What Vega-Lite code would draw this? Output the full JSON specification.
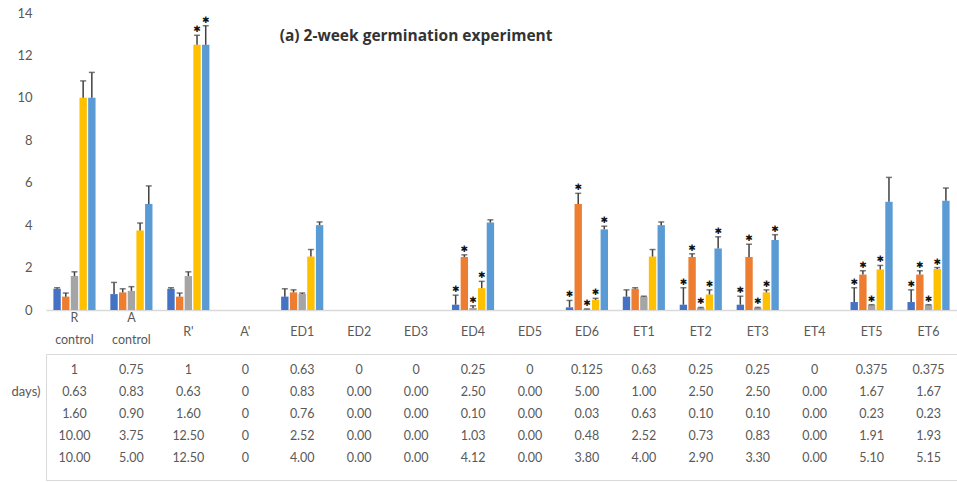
{
  "$schema": "https://vega.github.io/schema/vega-lite/v6.json",
  "padding": {"left": 10, "top": 7, "right": 0, "bottom": 0},
  "background": "white",
  "config": {"font": "Lato", "view": {"stroke": null}},
  "spacing": 6,
  "datasets": {
    "d": [
      {"cat": "R control", "s": "s1", "v": 1, "hi": 1.05, "star": false, "t": "1"},
      {"cat": "R control", "s": "s2", "v": 0.63, "hi": 0.8, "star": false, "t": "0.63"},
      {"cat": "R control", "s": "s3", "v": 1.6, "hi": 1.8, "star": false, "t": "1.60"},
      {"cat": "R control", "s": "s4", "v": 10, "hi": 10.8, "star": false, "t": "10.00"},
      {"cat": "R control", "s": "s5", "v": 10, "hi": 11.2, "star": false, "t": "10.00"},
      {"cat": "A control", "s": "s1", "v": 0.75, "hi": 1.3, "star": false, "t": "0.75"},
      {"cat": "A control", "s": "s2", "v": 0.83, "hi": 1.0, "star": false, "t": "0.83"},
      {"cat": "A control", "s": "s3", "v": 0.9, "hi": 1.1, "star": false, "t": "0.90"},
      {"cat": "A control", "s": "s4", "v": 3.75, "hi": 4.1, "star": false, "t": "3.75"},
      {"cat": "A control", "s": "s5", "v": 5, "hi": 5.85, "star": false, "t": "5.00"},
      {"cat": "R'", "s": "s1", "v": 1, "hi": 1.05, "star": false, "t": "1"},
      {"cat": "R'", "s": "s2", "v": 0.63, "hi": 0.8, "star": false, "t": "0.63"},
      {"cat": "R'", "s": "s3", "v": 1.6, "hi": 1.8, "star": false, "t": "1.60"},
      {"cat": "R'", "s": "s4", "v": 12.5, "hi": 12.95, "star": true, "t": "12.50"},
      {"cat": "R'", "s": "s5", "v": 12.5, "hi": 13.4, "star": true, "t": "12.50"},
      {"cat": "A'", "s": "s1", "v": 0, "hi": 0, "star": false, "t": "0"},
      {"cat": "A'", "s": "s2", "v": 0, "hi": 0, "star": false, "t": "0"},
      {"cat": "A'", "s": "s3", "v": 0, "hi": 0, "star": false, "t": "0"},
      {"cat": "A'", "s": "s4", "v": 0, "hi": 0, "star": false, "t": "0"},
      {"cat": "A'", "s": "s5", "v": 0, "hi": 0, "star": false, "t": "0"},
      {"cat": "ED1", "s": "s1", "v": 0.63, "hi": 1.0, "star": false, "t": "0.63"},
      {"cat": "ED1", "s": "s2", "v": 0.83, "hi": 0.95, "star": false, "t": "0.83"},
      {"cat": "ED1", "s": "s3", "v": 0.76, "hi": 0.8, "star": false, "t": "0.76"},
      {"cat": "ED1", "s": "s4", "v": 2.52, "hi": 2.85, "star": false, "t": "2.52"},
      {"cat": "ED1", "s": "s5", "v": 4, "hi": 4.15, "star": false, "t": "4.00"},
      {"cat": "ED2", "s": "s1", "v": 0, "hi": 0, "star": false, "t": "0"},
      {"cat": "ED2", "s": "s2", "v": 0, "hi": 0, "star": false, "t": "0.00"},
      {"cat": "ED2", "s": "s3", "v": 0, "hi": 0, "star": false, "t": "0.00"},
      {"cat": "ED2", "s": "s4", "v": 0, "hi": 0, "star": false, "t": "0.00"},
      {"cat": "ED2", "s": "s5", "v": 0, "hi": 0, "star": false, "t": "0.00"},
      {"cat": "ED3", "s": "s1", "v": 0, "hi": 0, "star": false, "t": "0"},
      {"cat": "ED3", "s": "s2", "v": 0, "hi": 0, "star": false, "t": "0.00"},
      {"cat": "ED3", "s": "s3", "v": 0, "hi": 0, "star": false, "t": "0.00"},
      {"cat": "ED3", "s": "s4", "v": 0, "hi": 0, "star": false, "t": "0.00"},
      {"cat": "ED3", "s": "s5", "v": 0, "hi": 0, "star": false, "t": "0.00"},
      {"cat": "ED4", "s": "s1", "v": 0.25, "hi": 0.7, "star": true, "t": "0.25"},
      {"cat": "ED4", "s": "s2", "v": 2.5, "hi": 2.6, "star": true, "t": "2.50"},
      {"cat": "ED4", "s": "s3", "v": 0.1, "hi": 0.2, "star": true, "t": "0.10"},
      {"cat": "ED4", "s": "s4", "v": 1.03, "hi": 1.35, "star": true, "t": "1.03"},
      {"cat": "ED4", "s": "s5", "v": 4.12, "hi": 4.25, "star": false, "t": "4.12"},
      {"cat": "ED5", "s": "s1", "v": 0, "hi": 0, "star": false, "t": "0"},
      {"cat": "ED5", "s": "s2", "v": 0, "hi": 0, "star": false, "t": "0.00"},
      {"cat": "ED5", "s": "s3", "v": 0, "hi": 0, "star": false, "t": "0.00"},
      {"cat": "ED5", "s": "s4", "v": 0, "hi": 0, "star": false, "t": "0.00"},
      {"cat": "ED5", "s": "s5", "v": 0, "hi": 0, "star": false, "t": "0.00"},
      {"cat": "ED6", "s": "s1", "v": 0.125, "hi": 0.45, "star": true, "t": "0.125"},
      {"cat": "ED6", "s": "s2", "v": 5, "hi": 5.5, "star": true, "t": "5.00"},
      {"cat": "ED6", "s": "s3", "v": 0.03, "hi": 0.05, "star": true, "t": "0.03"},
      {"cat": "ED6", "s": "s4", "v": 0.48, "hi": 0.55, "star": true, "t": "0.48"},
      {"cat": "ED6", "s": "s5", "v": 3.8, "hi": 3.95, "star": true, "t": "3.80"},
      {"cat": "ET1", "s": "s1", "v": 0.63, "hi": 0.95, "star": false, "t": "0.63"},
      {"cat": "ET1", "s": "s2", "v": 1, "hi": 1.05, "star": false, "t": "1.00"},
      {"cat": "ET1", "s": "s3", "v": 0.63, "hi": 0.65, "star": false, "t": "0.63"},
      {"cat": "ET1", "s": "s4", "v": 2.52, "hi": 2.85, "star": false, "t": "2.52"},
      {"cat": "ET1", "s": "s5", "v": 4, "hi": 4.15, "star": false, "t": "4.00"},
      {"cat": "ET2", "s": "s1", "v": 0.25, "hi": 1.05, "star": true, "t": "0.25"},
      {"cat": "ET2", "s": "s2", "v": 2.5, "hi": 2.65, "star": true, "t": "2.50"},
      {"cat": "ET2", "s": "s3", "v": 0.1, "hi": 0.12, "star": true, "t": "0.10"},
      {"cat": "ET2", "s": "s4", "v": 0.73, "hi": 0.95, "star": true, "t": "0.73"},
      {"cat": "ET2", "s": "s5", "v": 2.9, "hi": 3.45, "star": true, "t": "2.90"},
      {"cat": "ET3", "s": "s1", "v": 0.25, "hi": 0.65, "star": true, "t": "0.25"},
      {"cat": "ET3", "s": "s2", "v": 2.5, "hi": 3.1, "star": true, "t": "2.50"},
      {"cat": "ET3", "s": "s3", "v": 0.1, "hi": 0.12, "star": true, "t": "0.10"},
      {"cat": "ET3", "s": "s4", "v": 0.83, "hi": 0.95, "star": true, "t": "0.83"},
      {"cat": "ET3", "s": "s5", "v": 3.3, "hi": 3.55, "star": true, "t": "3.30"},
      {"cat": "ET4", "s": "s1", "v": 0, "hi": 0, "star": false, "t": "0"},
      {"cat": "ET4", "s": "s2", "v": 0, "hi": 0, "star": false, "t": "0.00"},
      {"cat": "ET4", "s": "s3", "v": 0, "hi": 0, "star": false, "t": "0.00"},
      {"cat": "ET4", "s": "s4", "v": 0, "hi": 0, "star": false, "t": "0.00"},
      {"cat": "ET4", "s": "s5", "v": 0, "hi": 0, "star": false, "t": "0.00"},
      {"cat": "ET5", "s": "s1", "v": 0.375, "hi": 1.05, "star": true, "t": "0.375"},
      {"cat": "ET5", "s": "s2", "v": 1.67, "hi": 1.85, "star": true, "t": "1.67"},
      {"cat": "ET5", "s": "s3", "v": 0.23, "hi": 0.25, "star": true, "t": "0.23"},
      {"cat": "ET5", "s": "s4", "v": 1.91, "hi": 2.1, "star": true, "t": "1.91"},
      {"cat": "ET5", "s": "s5", "v": 5.1, "hi": 6.25, "star": false, "t": "5.10"},
      {"cat": "ET6", "s": "s1", "v": 0.375, "hi": 0.95, "star": true, "t": "0.375"},
      {"cat": "ET6", "s": "s2", "v": 1.67, "hi": 1.85, "star": true, "t": "1.67"},
      {"cat": "ET6", "s": "s3", "v": 0.23, "hi": 0.25, "star": true, "t": "0.23"},
      {"cat": "ET6", "s": "s4", "v": 1.93, "hi": 2.0, "star": true, "t": "1.93"},
      {"cat": "ET6", "s": "s5", "v": 5.15, "hi": 5.75, "star": false, "t": "5.15"}
    ]
  },
  "vconcat": [
    {
      "width": 911,
      "height": 297,
      "data": {"name": "d"},
      "encoding": {
        "x": {
          "field": "cat", "type": "nominal", "sort": null,
          "scale": {"domain": ["R control","A control","R'","A'","ED1","ED2","ED3","ED4","ED5","ED6","ET1","ET2","ET3","ET4","ET5","ET6"], "paddingInner": 0.26, "paddingOuter": 0.13},
          "axis": {"title": null, "labels": false, "ticks": false, "tickSize": 0, "domainColor": "#d9d9d9", "domainWidth": 1.5}
        }
      },
      "layer": [
        {
          "mark": {"type": "bar"},
          "encoding": {
            "xOffset": {"field": "s", "type": "nominal", "scale": {"paddingInner": 0.15}},
            "y": {"field": "v", "type": "quantitative", "scale": {"domain": [0, 14]},
                  "axis": {"title": null, "grid": false, "domain": false, "ticks": false, "values": [0,2,4,6,8,10,12,14], "labelPadding": 14, "labelColor": "#595959", "labelFontSize": 13}},
            "color": {"field": "s", "type": "nominal", "scale": {"domain": ["s1","s2","s3","s4","s5"], "range": ["#4472C4","#ED7D31","#A5A5A5","#FFC000","#5B9BD5"]}, "legend": null}
          }
        },
        {
          "transform": [{"filter": "datum.hi > datum.v"}],
          "mark": {"type": "rule", "color": "#404040", "strokeWidth": 1.5},
          "encoding": {
            "xOffset": {"field": "s", "type": "nominal", "scale": {"paddingInner": 0.15}},
            "y": {"field": "v", "type": "quantitative"},
            "y2": {"field": "hi"}
          }
        },
        {
          "transform": [{"filter": "datum.hi > datum.v"}],
          "mark": {"type": "tick", "color": "#404040", "thickness": 1.5, "size": 6, "orient": "horizontal"},
          "encoding": {
            "xOffset": {"field": "s", "type": "nominal", "scale": {"paddingInner": 0.15}},
            "y": {"field": "hi", "type": "quantitative"}
          }
        },
        {
          "transform": [{"filter": "datum.star"}],
          "mark": {"type": "text", "text": "✱", "font": "DejaVu Sans", "fontSize": 9, "baseline": "middle", "dy": -6, "color": "#111111"},
          "encoding": {
            "xOffset": {"field": "s", "type": "nominal", "scale": {"paddingInner": 0.15}},
            "y": {"field": "hi", "type": "quantitative"}
          }
        },
        {
          "transform": [{"filter": "datum.s == 's1' && indexof(datum.cat, ' ') >= 0"}],
          "mark": {"type": "text", "fontSize": 12.5, "color": "#595959", "baseline": "middle", "lineBreak": " ", "lineHeight": 22, "dy": 8},
          "encoding": {
            "y": {"datum": 0},
            "text": {"field": "cat"}
          }
        },
        {
          "transform": [{"filter": "datum.s == 's1' && indexof(datum.cat, ' ') < 0"}],
          "mark": {"type": "text", "fontSize": 12.5, "color": "#595959", "baseline": "middle", "dy": 22},
          "encoding": {
            "y": {"datum": 0},
            "text": {"field": "cat"}
          }
        },
        {
          "data": {"values": [{"label": "(a) 2-week germination experiment"}]},
          "mark": {"type": "text", "font": "Open Sans", "fontSize": 15.5, "fontWeight": "bold", "color": "#333333", "align": "center", "baseline": "middle"},
          "encoding": {
            "x": {"datum": "ED3"},
            "y": {"datum": 12.9},
            "text": {"field": "label"}
          }
        }
      ]
    },
    {
      "width": 911,
      "height": 126,
      "view": {"stroke": "#d9d9d9"},
      "data": {"name": "d"},
      "mark": {"type": "text", "fontSize": 12.5, "color": "#595959"},
      "encoding": {
        "x": {
          "field": "cat", "type": "nominal", "sort": null,
          "scale": {"domain": ["R control","A control","R'","A'","ED1","ED2","ED3","ED4","ED5","ED6","ET1","ET2","ET3","ET4","ET5","ET6"], "paddingInner": 0.26, "paddingOuter": 0.13},
          "axis": null
        },
        "y": {
          "field": "s", "type": "nominal",
          "scale": {"type": "band", "domain": ["s1","s2","s3","s4","s5"], "paddingInner": 0, "paddingOuter": 0.364, "align": 0.3125},
          "axis": {"title": null, "ticks": false, "domain": false, "labelPadding": 6, "labelFontSize": 13, "labelColor": "#595959", "labelExpr": "datum.value == 's2' ? 'days)' : ''"}
        },
        "text": {"field": "t"}
      }
    }
  ]
}
